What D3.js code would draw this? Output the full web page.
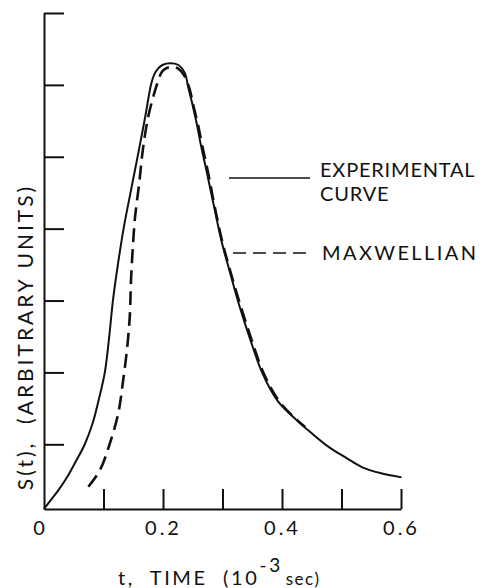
<!DOCTYPE html>
<html>
<head>
<meta charset="utf-8">
<script src="https://cdn.jsdelivr.net/npm/d3@7"></script>
<style>
  body { margin: 0; background: #fff; }
  text { font-family: Lato, "Noto Sans", sans-serif; fill: #111; white-space: pre; }
</style>
</head>
<body>
<div id="chart"></div>
<script>
// experimental curve, S(t) in arbitrary units, t in 1e-3 sec
const expT = [0, 0.012, 0.024, 0.040, 0.052, 0.068, 0.082, 0.092, 0.102, 0.109, 0.116, 0.124, 0.134,
  0.143, 0.158, 0.170, 0.180, 0.185, 0.192, 0.200, 0.212, 0.225, 0.237, 0.242, 0.250, 0.258,
  0.263, 0.274, 0.286, 0.298, 0.313, 0.329, 0.347, 0.367, 0.393, 0.424, 0.449, 0.479, 0.508, 0.535, 0.565, 0.601]
const expS = [0, 0.13, 0.26, 0.46, 0.64, 0.89, 1.20, 1.52, 1.89, 2.35, 2.91, 3.39, 3.91,
  4.30, 4.93, 5.45, 5.91, 6.04, 6.13, 6.18, 6.20, 6.18, 6.06, 5.88, 5.61, 5.31,
  5.09, 4.67, 4.20, 3.74, 3.28, 2.81, 2.35, 1.89, 1.50, 1.24, 1.06, 0.86, 0.71, 0.58, 0.50, 0.44]

// maxwellian fit
const maxT = [0.0745, 0.094, 0.111, 0.125, 0.133, 0.140, 0.1445, 0.146, 0.149, 0.153, 0.160, 0.166,
  0.175, 0.187, 0.198, 0.205, 0.215, 0.225, 0.235, 0.244, 0.252, 0.260, 0.265, 0.276, 0.287, 0.299,
  0.314, 0.331, 0.349, 0.369, 0.395, 0.425, 0.439]
const maxS = [0.31, 0.54, 0.92, 1.34, 1.79, 2.26, 2.73, 3.14, 3.60, 4.06, 4.53, 4.99,
  5.45, 5.83, 6.08, 6.13, 6.15, 6.13, 6.04, 5.86, 5.58, 5.30, 5.09, 4.67, 4.20, 3.74,
  3.28, 2.81, 2.35, 1.89, 1.50, 1.24, 1.14]

const xTicks = [0.1, 0.2, 0.3, 0.4, 0.5, 0.6]
const xLabels = [0, 0.2, 0.4, 0.6]
const yTicks = [0.9, 1.9, 2.9, 3.9, 4.9, 5.9, 6.9]

const width = 485, height = 588

const svg = d3.select('#chart')
  .append('svg')
    .attr('width', width)
    .attr('height', height)

const x = d3.scaleLinear().domain([0, 0.6]).range([44, 401])
const y = d3.scaleLinear().domain([0, 6.9]).range([509, 13])

// axes, ticks point inward
svg.append('g')
    .attr('transform', `translate(${x(0)},0)`)
    .call(d3.axisLeft(y).tickValues(yTicks).tickSize(-20).tickSizeOuter(0).tickFormat(''))
    .call(g => g.selectAll('path, line').attr('stroke', '#111').attr('stroke-width', 2))

svg.append('g')
    .attr('transform', `translate(0,${y(0)})`)
    .call(d3.axisBottom(x).tickValues(xTicks).tickSize(-20).tickSizeOuter(0).tickFormat(''))
    .call(g => g.selectAll('path, line').attr('stroke', '#111').attr('stroke-width', 2))

svg.append('g')
    .attr('transform', `translate(0,${y(0)})`)
    .call(d3.axisBottom(x).tickValues(xLabels).tickSize(0).tickPadding(12)
      .tickFormat(d => d === 0 ? '0' : d.toFixed(1)))
    .call(g => g.select('.domain').remove())
    .call(g => g.selectAll('text')
      .attr('font-family', 'Lato, sans-serif')
      .attr('font-size', 20)
      .attr('letter-spacing', 3)
      .attr('fill', '#111'))
    .call(g => g.selectAll('.tick').filter(d => d === 0).select('text').attr('dx', -4))

const line = d3.line()
  .x(d => x(d[0]))
  .y(d => y(d[1]))
  .curve(d3.curveCatmullRom.alpha(0.5))

svg.append('path')
  .datum(maxT.map((t, i) => [t, maxS[i]]))
  .attr('fill', 'none')
  .attr('stroke', '#111')
  .attr('stroke-width', 2.6)
  .attr('stroke-dasharray', '14,7')
  .attr('d', line)

svg.append('path')
  .datum(expT.map((t, i) => [t, expS[i]]))
  .attr('fill', 'none')
  .attr('stroke', '#111')
  .attr('stroke-width', 2)
  .attr('d', line)

// legend
svg.append('line')
  .attr('x1', 229).attr('x2', 310).attr('y1', 178).attr('y2', 178)
  .attr('stroke', '#111').attr('stroke-width', 1.6)
svg.append('line')
  .attr('x1', 233).attr('x2', 312).attr('y1', 253).attr('y2', 253)
  .attr('stroke', '#111').attr('stroke-width', 1.6)
  .attr('stroke-dasharray', '13,7')

const legText = svg.append('g').attr('font-size', 20).attr('letter-spacing', 0.8)
legText.append('text').attr('x', 320).attr('y', 177).text('EXPERIMENTAL')
legText.append('text').attr('x', 320).attr('y', 201).text('CURVE')
legText.append('text').attr('x', 322).attr('y', 260).attr('letter-spacing', 2.4).text('MAXWELLIAN')

// axis titles
const xt = svg.append('text')
  .attr('x', 118).attr('y', 585)
  .attr('font-size', 20)
  .attr('letter-spacing', 2.6)
xt.append('tspan').text('t,  TIME  (10')
xt.append('tspan').attr('dy', -13).attr('font-size', 19).text('-3')
xt.append('tspan').attr('dy', 13).attr('dx', 3).attr('font-size', 17).attr('letter-spacing', 1.5).text('sec)')

svg.append('text')
  .attr('transform', 'translate(33,337) rotate(-90)')
  .attr('text-anchor', 'middle')
  .attr('font-size', 21)
  .attr('letter-spacing', 3)
  .text('S(t),  (ARBITRARY UNITS)')
</script>
</body>
</html>
